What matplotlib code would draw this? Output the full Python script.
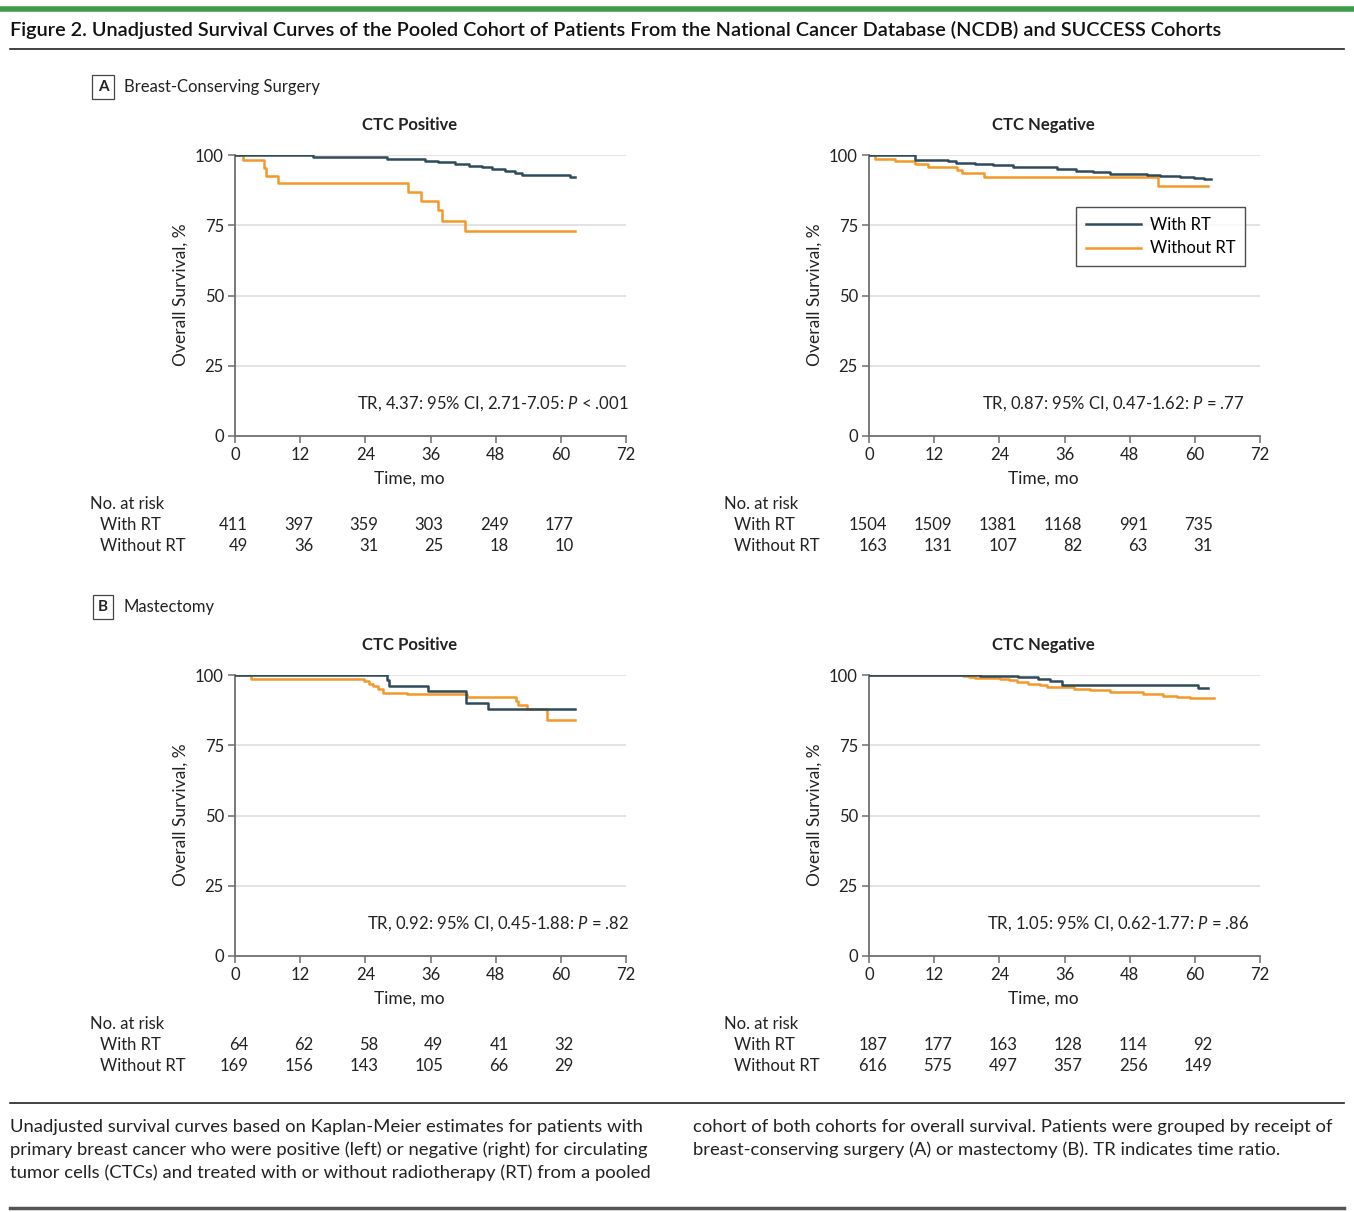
import matplotlib
matplotlib.use("Agg")
import matplotlib.pyplot as plt
from matplotlib import transforms
from matplotlib.lines import Line2D

# ---- data ----
months = [0, 12, 24, 36, 48, 60, 72]
surv_ticks = [0, 25, 50, 75, 100]

# A, CTC positive
a_pos_rt_t = [0, 14.4, 27.9, 35.0, 37.4, 40.5, 43.0, 45.4, 47.3, 49.7, 51.6, 52.8, 61.7, 62.7]
a_pos_rt_s = [100, 99.2, 98.6, 97.9, 97.4, 96.8, 96.2, 95.6, 95.0, 94.4, 93.7, 93.0, 92.3, 92.3]
a_pos_no_t = [0, 1.5, 5.4, 5.8, 8.0, 31.8, 34.2, 37.4, 38.2, 42.3, 62.7]
a_pos_no_s = [100, 98.2, 95.5, 92.6, 90.1, 86.9, 83.6, 80.3, 76.5, 73.1, 73.1]
# A, CTC negative
a_neg_rt_t = [0, 8.5, 14.6, 16.0, 19.5, 22.9, 26.6, 34.6, 38.2, 41.3, 44.4, 51.1, 53.6, 57.3, 59.8, 61.6, 62.9]
a_neg_rt_s = [100, 98.3, 97.7, 97.3, 96.9, 96.4, 95.6, 95.0, 94.4, 93.9, 93.4, 92.8, 92.6, 92.2, 91.8, 91.5, 91.5]
a_neg_no_t = [0, 1.1, 4.8, 8.5, 10.9, 16.2, 17.1, 21.1, 53.3, 62.4]
a_neg_no_s = [100, 98.5, 97.9, 96.7, 95.8, 94.8, 93.5, 92.2, 89.1, 89.1]
# B, CTC positive
b_pos_rt_t = [0, 28.0, 28.4, 35.6, 42.5, 46.5, 62.7]
b_pos_rt_s = [100, 98.2, 96.1, 94.2, 90.1, 87.9, 87.9]
b_pos_no_t = [0, 2.9, 23.8, 24.6, 25.5, 26.3, 27.3, 31.6, 42.7, 51.7, 52.2, 53.7, 57.4, 62.7]
b_pos_no_s = [100, 98.6, 97.7, 96.8, 96.0, 94.9, 93.7, 93.4, 92.2, 90.9, 89.3, 87.8, 84.0, 84.0]
# B, CTC negative
b_neg_rt_t = [0, 20.4, 27.5, 31.2, 33.3, 35.5, 60.6, 62.5]
b_neg_rt_s = [100, 99.8, 99.3, 98.6, 97.9, 96.6, 95.5, 95.5]
b_neg_no_t = [0, 17.4, 18.5, 19.5, 24.1, 25.7, 27.2, 29.3, 31.5, 32.7, 37.7, 40.7, 44.4, 50.5, 54.2, 56.7, 59.1, 63.5]
b_neg_no_s = [100, 99.6, 99.2, 98.8, 98.5, 98.1, 97.6, 96.9, 96.4, 95.7, 95.0, 94.6, 93.8, 93.3, 92.6, 92.1, 91.7, 91.7]

# numbers at risk (0..60 mo)
a_pos_risk_rt = [411, 397, 359, 303, 249, 177]
a_pos_risk_no = [49, 36, 31, 25, 18, 10]
a_neg_risk_rt = [1504, 1509, 1381, 1168, 991, 735]
a_neg_risk_no = [163, 131, 107, 82, 63, 31]
b_pos_risk_rt = [64, 62, 58, 49, 41, 32]
b_pos_risk_no = [169, 156, 143, 105, 66, 29]
b_neg_risk_rt = [187, 177, 163, 128, 114, 92]
b_neg_risk_no = [616, 575, 497, 357, 256, 149]

notes = {
    "a_pos": r"TR, 4.37: 95% CI, 2.71-7.05: $\mathit{P}$ < .001",
    "a_neg": r"TR, 0.87: 95% CI, 0.47-1.62: $\mathit{P}$ = .77",
    "b_pos": r"TR, 0.92: 95% CI, 0.45-1.88: $\mathit{P}$ = .82",
    "b_neg": r"TR, 1.05: 95% CI, 0.62-1.77: $\mathit{P}$ = .86",
}

title = ("Figure 2. Unadjusted Survival Curves of the Pooled Cohort of Patients From the "
         "National Cancer Database (NCDB) and SUCCESS Cohorts")
caption_left = ["Unadjusted survival curves based on Kaplan-Meier estimates for patients with",
                "primary breast cancer who were positive (left) or negative (right) for circulating",
                "tumor cells (CTCs) and treated with or without radiotherapy (RT) from a pooled"]
caption_right = ["cohort of both cohorts for overall survival. Patients were grouped by receipt of",
                 "breast-conserving surgery (A) or mastectomy (B). TR indicates time ratio."]

BLUE = "#2e4b5b"
ORANGE = "#f4982a"
GRID = "#dedede"
AXC = "#6e6e6e"

plt.rcParams['font.family'] = ['Lato', 'DejaVu Sans']
plt.rcParams['mathtext.fontset'] = 'custom'
plt.rcParams['mathtext.rm'] = 'Lato'
plt.rcParams['mathtext.it'] = 'Lato:italic'

W, H = 1354, 1212
fig = plt.figure(figsize=(W / 100, H / 100), dpi=100)
renderer = fig.canvas.get_renderer()


def fx(x):
    return x / W


def fy(y):
    return 1 - y / H


def hline(y, x0, x1, color, lw):
    fig.add_artist(Line2D([fx(x0), fx(x1)], [fy(y), fy(y)], color=color, lw=lw,
                          transform=fig.transFigure))


def fit_size(text, width_px, **kw):
    # font size that makes the text span width_px
    t = fig.text(0, 0, text, fontsize=12, **kw)
    w = t.get_window_extent(renderer).width
    t.remove()
    return 12 * width_px / w


def panel(left, top, head, rt_t, rt_s, no_t, no_s, note, note_x, risk_rt, risk_no,
          num_off, legend=False):
    ax = fig.add_axes([fx(left), fy(top + 281), 391 / W, 281 / H])
    for y in surv_ticks[1:]:
        ax.axhline(y, color=GRID, lw=1.2, zorder=0)
    ax.step(rt_t, rt_s, where='post', color=BLUE, lw=1.8, label='With RT', zorder=3)
    ax.step(no_t, no_s, where='post', color=ORANGE, lw=1.8, label='Without RT', zorder=2)
    ax.set_xlim(0, 72)
    ax.set_ylim(0, 100)
    ax.set_xticks(months)
    ax.set_yticks(surv_ticks)
    for s in ('top', 'right'):
        ax.spines[s].set_visible(False)
    for s in ('left', 'bottom'):
        ax.spines[s].set_color(AXC)
        ax.spines[s].set_linewidth(1.3)
    ax.tick_params(length=5, width=1.1, color=AXC, labelsize=12, pad=3, labelcolor='#222')

    cx = left - 21 + 391 / 2
    fig.text(fx(cx), fy(top - 30), head, ha='center', va='center', fontsize=12,
             fontweight='bold', color='#222')
    fig.text(fx(left - 54), fy(top + 140), "Overall Survival, %", rotation=90,
             ha='center', va='center', fontsize=12.5, color='#222')
    fig.text(fx(cx), fy(top + 324), "Time, mo", ha='center', va='center', fontsize=12.5,
             color='#222')
    fig.text(fx(note_x), fy(top + 249), note, ha='right', va='center', fontsize=12,
             color='#222')

    # risk table
    trans = transforms.blended_transform_factory(ax.transData, fig.transFigure)
    trans = transforms.offset_copy(trans, fig=fig, x=num_off, y=0, units='dots')
    fig.text(fx(left - 145), fy(top + 349), "No. at risk", ha='left', va='center',
             fontsize=12, color='#222')
    fig.text(fx(left - 135), fy(top + 370), "With RT", ha='left', va='center',
             fontsize=12, color='#222')
    fig.text(fx(left - 135), fy(top + 391), "Without RT", ha='left', va='center',
             fontsize=12, color='#222')
    for m, a, b in zip(months, risk_rt, risk_no):
        fig.text(m, fy(top + 370), str(a), transform=trans, ha='right', va='center',
                 fontsize=12, color='#222')
        fig.text(m, fy(top + 391), str(b), transform=trans, ha='right', va='center',
                 fontsize=12, color='#222')

    if legend:
        leg = ax.legend(loc='upper right', bbox_to_anchor=(0.962, 0.815), borderaxespad=0,
                        fontsize=12, frameon=True, fancybox=False, handlelength=3.3,
                        borderpad=0.6, labelspacing=0.45, handletextpad=0.5)
        leg.get_frame().set_edgecolor('#222')
        leg.get_frame().set_linewidth(1.0)
    return ax


def section(letter, label, y):
    fig.text(fx(103), fy(y), letter, ha='center', va='center', fontsize=11,
             fontweight='bold', color='#222',
             bbox=dict(boxstyle='square,pad=0.35', fc='white', ec='#444', lw=0.9))
    fig.text(fx(124), fy(y), label, ha='left', va='center', fontsize=12, color='#222')


# header
hline(9, 0, W, '#3f9a4a', 4)
ts = fit_size(title, 1212, fontweight='semibold')
fig.text(fx(10), fy(30), title, ha='left', va='center', fontsize=ts,
         fontweight='semibold', color='#111')
hline(49, 10, 1344, '#222', 1.2)

section("A", "Breast-Conserving Surgery", 87)
section("B", "Mastectomy", 607)

panel(235, 155, "CTC Positive", a_pos_rt_t, a_pos_rt_s, a_pos_no_t, a_pos_no_s,
      notes["a_pos"], 629, a_pos_risk_rt, a_pos_risk_no, 13)
panel(869, 155, "CTC Negative", a_neg_rt_t, a_neg_rt_s, a_neg_no_t, a_neg_no_s,
      notes["a_neg"], 1245, a_neg_risk_rt, a_neg_risk_no, 18, legend=True)
panel(235, 675, "CTC Positive", b_pos_rt_t, b_pos_rt_s, b_pos_no_t, b_pos_no_s,
      notes["b_pos"], 629, b_pos_risk_rt, b_pos_risk_no, 13)
panel(869, 675, "CTC Negative", b_neg_rt_t, b_neg_rt_s, b_neg_no_t, b_neg_no_s,
      notes["b_neg"], 1249, b_neg_risk_rt, b_neg_risk_no, 18)

# footer caption
hline(1103, 10, 1344, '#222', 1.2)
cs = min(fit_size(caption_left[1], 643), fit_size(caption_right[0], 638))
for i, line in enumerate(caption_left):
    fig.text(fx(10), fy(1127 + 23 * i), line, ha='left', va='center', fontsize=cs,
             color='#222')
for i, line in enumerate(caption_right):
    fig.text(fx(693), fy(1127 + 23 * i), line, ha='left', va='center', fontsize=cs,
             color='#222')
hline(1208, 10, 1344, '#555', 2.5)

fig.savefig("out.png", dpi=100)
